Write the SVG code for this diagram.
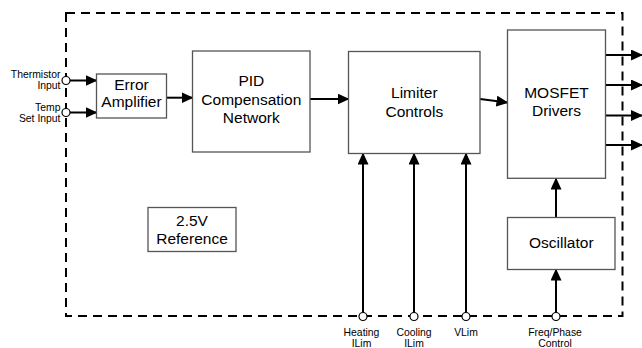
<svg xmlns="http://www.w3.org/2000/svg" width="642" height="348" viewBox="0 0 642 348">
<defs>
<marker id="ah" markerUnits="userSpaceOnUse" markerWidth="13" markerHeight="12" refX="11" refY="5.5" orient="auto">
<path d="M0,0 L12,5.5 L0,11 z" fill="#000"/>
</marker>
<style>
.box{fill:#fff;stroke:#555;stroke-width:1.3}
.t{font-family:"Liberation Sans",Arial,sans-serif;font-size:15.5px;fill:#000;text-anchor:middle}
.s{font-family:"Liberation Sans",Arial,sans-serif;font-size:10.4px;fill:#000}
.c{text-anchor:middle}
.r{text-anchor:end}
.w{stroke:#000;stroke-width:2;fill:none}
.pin{fill:#fff;stroke:#000;stroke-width:1.2}
</style>
</defs>
<rect id="boundary" x="66" y="13" width="556.5" height="303" fill="none" stroke="#000" stroke-width="2" stroke-dasharray="9,6"/>
<g id="connectors">
<line class="w" x1="70" y1="80.5" x2="96.5" y2="80.5" marker-end="url(#ah)"/>
<line class="w" x1="70" y1="112.5" x2="96.5" y2="112.5" marker-end="url(#ah)"/>
<line class="w" x1="166.7" y1="97.7" x2="192.5" y2="97.7" marker-end="url(#ah)"/>
<line class="w" x1="310" y1="99" x2="348.5" y2="99" marker-end="url(#ah)"/>
<line class="w" x1="480" y1="99" x2="507.5" y2="102.5" marker-end="url(#ah)"/>
<line class="w" x1="605.7" y1="55" x2="642" y2="55" marker-end="url(#ah)"/>
<line class="w" x1="605.7" y1="85" x2="642" y2="85" marker-end="url(#ah)"/>
<line class="w" x1="605.7" y1="115.5" x2="642" y2="115.5" marker-end="url(#ah)"/>
<line class="w" x1="605.7" y1="145" x2="642" y2="145" marker-end="url(#ah)"/>
<line class="w" x1="363" y1="312.5" x2="363" y2="153.5" marker-end="url(#ah)"/>
<line class="w" x1="414" y1="312.5" x2="414" y2="153.5" marker-end="url(#ah)"/>
<line class="w" x1="466" y1="312.5" x2="466" y2="153.5" marker-end="url(#ah)"/>
<line class="w" x1="556" y1="217.5" x2="556" y2="178.5" marker-end="url(#ah)"/>
<line class="w" x1="556" y1="312.5" x2="556" y2="269.5" marker-end="url(#ah)"/>
</g>
<g id="pins">
<circle class="pin" cx="66" cy="80.5" r="4"/>
<circle class="pin" cx="66" cy="112.5" r="4"/>
<circle class="pin" cx="363" cy="316.5" r="4"/>
<circle class="pin" cx="414" cy="316.5" r="4"/>
<circle class="pin" cx="466" cy="316.5" r="4"/>
<circle class="pin" cx="556" cy="316.5" r="4"/>
</g>
<g id="error-amp">
<rect class="box" x="96.5" y="74" width="70" height="44"/>
<text class="t" x="131.5" y="90">Error</text>
<text class="t" x="131.5" y="107">Amplifier</text>
</g>
<g id="pid">
<rect class="box" x="192.5" y="51" width="117.5" height="101"/>
<text class="t" x="251.3" y="86">PID</text>
<text class="t" x="251.3" y="105">Compensation</text>
<text class="t" x="251.3" y="122.7">Network</text>
</g>
<g id="limiter">
<rect class="box" x="348.5" y="51.5" width="131.5" height="102"/>
<text class="t" x="414.3" y="98">Limiter</text>
<text class="t" x="414.3" y="117">Controls</text>
</g>
<g id="mosfet">
<rect class="box" x="507.5" y="30" width="98" height="148.3"/>
<text class="t" x="556.5" y="98">MOSFET</text>
<text class="t" x="556.5" y="116">Drivers</text>
</g>
<g id="oscillator">
<rect class="box" x="507.5" y="217.5" width="107.5" height="52"/>
<text class="t" x="561.3" y="248">Oscillator</text>
</g>
<g id="reference">
<rect class="box" x="148" y="207.5" width="88" height="44"/>
<text class="t" x="192" y="225.7">2.5V</text>
<text class="t" x="192" y="244">Reference</text>
</g>
<g id="labels">
<text class="s r" x="60.5" y="77.5">Thermistor</text>
<text class="s r" x="60.5" y="88.5">Input</text>
<text class="s r" x="60.5" y="110.7">Temp</text>
<text class="s r" x="60.5" y="122.2">Set Input</text>
<text class="s c" x="361.5" y="336">Heating</text>
<text class="s c" x="361.5" y="347">ILim</text>
<text class="s c" x="414" y="336">Cooling</text>
<text class="s c" x="414" y="347">ILim</text>
<text class="s c" x="466" y="336">VLim</text>
<text class="s c" x="555" y="336">Freq/Phase</text>
<text class="s c" x="555" y="347">Control</text>
</g>
</svg>
